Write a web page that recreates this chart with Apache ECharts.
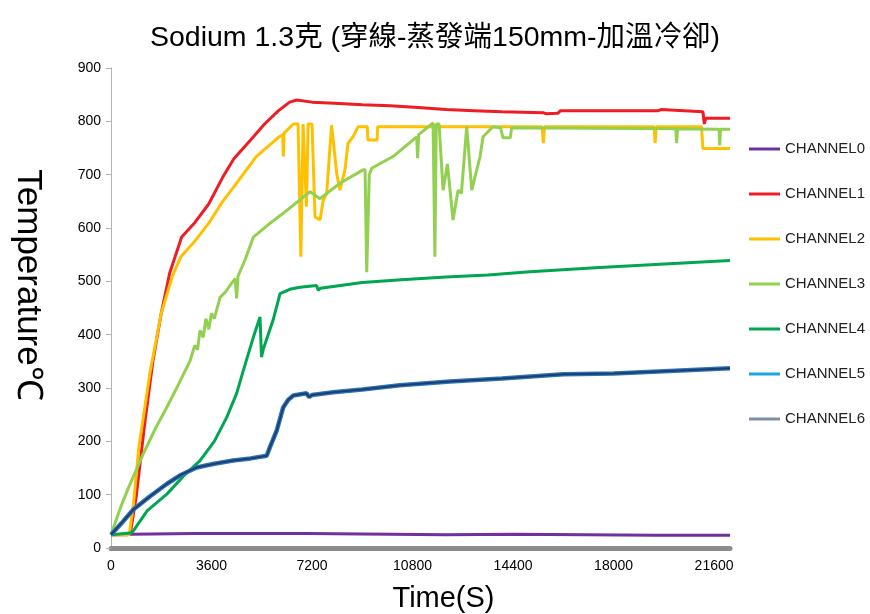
<!DOCTYPE html>
<html>
<head>
<meta charset="utf-8">
<script src="https://cdn.jsdelivr.net/npm/echarts@6/dist/echarts.min.js"></script>
<style>
  html, body { margin: 0; padding: 0; background: #fff; }
  #chart { width: 870px; height: 614px; }
</style>
</head>
<body>
<div id="chart"></div>
<script>
// data: [seconds, temperature]
const channelNames = ['CHANNEL0', 'CHANNEL1', 'CHANNEL2', 'CHANNEL3', 'CHANNEL4', 'CHANNEL5', 'CHANNEL6'];
const xTicks = [0, 3600, 7200, 10800, 14400, 18000, 21600];
const yTicks = [0, 100, 200, 300, 400, 500, 600, 700, 800, 900];

const ch0 = [[0,25],[700,26],[3000,27],[7000,27],[10000,26],[12000,25],[14400,26],[17000,25],[19500,24],[22170,24]];

const ch1 = [[0,25],[600,25],[700,30],[900,95],[1200,230],[1500,350],[1800,440],[2100,515],[2530,583],
  [3000,610],[3500,645],[4000,695],[4400,730],[5000,765],[5500,795],[6000,820],[6400,836],[6650,840],
  [7200,836],[8000,834],[9000,831],[10000,829],[11000,826],[12000,822],[13000,820],[14000,818],
  [15500,816],[15600,814],[16000,815],[16100,820],[17500,820],[19600,820],[19700,822],[21200,818],
  [21250,795],[21300,806],[22170,806]];

const ch2 = [[0,25],[650,25],[700,28],[800,80],[1000,190],[1400,330],[1800,440],[2200,510],[2500,546],
  [3000,575],[3500,609],[4000,650],[4400,677],[5200,734],[6000,770],[6150,775],[6172,734],[6200,778],
  [6530,795],[6700,795],[6800,546],[6880,795],[6950,795],[7000,640],[7060,795],[7200,795],[7307,621],
  [7486,615],[7600,652],[7725,665],[7900,793],[8085,702],[8200,671],[8380,709],[8490,759],[8670,771],
  [8850,790],[9180,790],[9200,765],[9530,765],[9550,790],[15440,790],[15485,759],[15530,790],
  [19450,790],[19490,759],[19530,790],[21150,790],[21200,749],[22170,749]];

const ch3 = [[0,25],[300,70],[600,110],[1150,176],[1600,225],[2000,264],[2400,305],[2830,351],[3000,380],
  [3100,372],[3188,408],[3300,395],[3400,430],[3500,410],[3600,440],[3700,430],[3905,470],[4100,480],
  [4300,495],[4450,505],[4500,468],[4550,510],[4800,540],[5100,583],[5700,609],[6300,633],[7128,668],
  [7486,655],[8200,684],[9027,709],[9100,709],[9159,517],[9250,700],[9338,712],[10100,734],[10950,771],
  [10980,731],[11020,775],[11535,797],[11600,546],[11650,795],[11750,795],[11893,671],[12050,720],
  [12250,615],[12430,671],[12550,665],[12740,790],[12920,671],[13218,734],[13325,771],[13683,790],
  [13950,788],[14040,769],[14300,769],[14350,788],[20230,786],[20260,759],[20290,786],[21780,785],
  [21800,755],[21830,785],[22170,785]];

const ch4 = [[0,25],[700,28],[800,32],[1300,70],[2000,101],[2600,135],[3188,164],[3700,200],[4144,245],
  [4500,290],[4741,333],[5097,395],[5337,433],[5390,358],[5450,372],[5803,427],[6054,477],[6400,485],
  [6770,489],[7368,492],[7420,483],[7500,487],[9000,498],[10400,503],[12000,508],[13500,512],
  [15000,518],[17500,526],[20000,533],[22170,539]];

const ch5 = [[0,25],[400,48],[800,72],[1400,97],[1995,120],[2500,137],[3070,151],[3700,158],[4373,164],
  [5000,168],[5576,173],[5700,190],[5934,220],[6170,264],[6350,278],[6530,286],[7000,290],[7060,292],
  [7100,283],[7200,287],[7960,292],[9000,297],[10352,305],[12143,312],[14000,318],[16200,326],
  [18000,327],[20000,332],[22170,337]];
const ch6 = ch5;

const lineColors = ['#7030A0', '#EE1C25', '#FFC000', '#92D050', '#00A651', '#2E75B6', '#1B3F73'];
const legendColors = ['#7030A0', '#EE1C25', '#FFC000', '#92D050', '#00A651', '#1AA7DF', '#7F8FA6'];
const lineWidths = [3, 3, 3, 3, 3, 4.5, 2];
const allData = [ch0, ch1, ch2, ch3, ch4, ch5, ch6];

const chart = echarts.init(document.getElementById('chart'));

const option = {
  animation: false,
  title: {
    text: 'Sodium 1.3克 (穿線-蒸發端150mm-加溫冷卻)',
    left: 'center',
    top: 19,
    textStyle: { fontFamily: 'Liberation Sans, Noto Sans CJK TC', fontSize: 28.5, fontWeight: 'normal', color: '#000' }
  },
  legend: {
    orient: 'vertical',
    left: 744,
    top: 136,
    icon: 'rect',
    itemWidth: 31,
    itemHeight: 3,
    itemGap: 29,
    textStyle: { fontFamily: 'Liberation Sans', fontSize: 15, color: '#222', lineHeight: 16 },
    data: channelNames.map((n, i) => ({ name: n, itemStyle: { color: legendColors[i] } }))
  },
  grid: { left: 111, right: 140, top: 68, bottom: 66, outerBoundsMode: 'none', containLabel: false },
  xAxis: {
    type: 'value',
    min: 0,
    max: 22170,
    interval: 3600,
    name: 'Time(S)',
    nameLocation: 'middle',
    nameGap: 36,
    nameTextStyle: { fontFamily: 'Liberation Sans', fontSize: 29, color: '#000', padding: [0, 0, 0, 46] },
    axisLine: { lineStyle: { color: '#8c8c8c', width: 5 } },
    axisTick: { show: false },
    axisLabel: {
      showMaxLabel: false, fontFamily: 'Liberation Sans', fontSize: 14, color: '#000', margin: 11,
      formatter: v => (xTicks.indexOf(v) >= 0 ? String(v) : '')
    },
    splitLine: { show: false }
  },
  yAxis: {
    type: 'value',
    min: 0,
    max: 900,
    interval: 100,
    name: 'Temperature℃',
    nameLocation: 'middle',
    nameRotate: -90,
    nameGap: 66,
    nameTextStyle: { fontFamily: 'Liberation Sans', fontSize: 35, color: '#000', padding: [0, 46, 0, 0] },
    axisLine: { show: true, lineStyle: { color: '#b3b3b3', width: 1 } },
    axisTick: { show: true, inside: false, length: 5, lineStyle: { color: '#b3b3b3' } },
    axisLabel: {
      fontFamily: 'Liberation Sans', fontSize: 14, color: '#000', margin: 10,
      formatter: v => (yTicks.indexOf(v) >= 0 ? String(v) : '')
    },
    splitLine: { show: false }
  },
  series: allData.map((d, i) => ({
    name: channelNames[i],
    type: 'line',
    data: d,
    symbol: 'none',
    color: lineColors[i],
    lineStyle: { width: lineWidths[i], color: lineColors[i] }
  }))
};

chart.setOption(option);
</script>
</body>
</html>
